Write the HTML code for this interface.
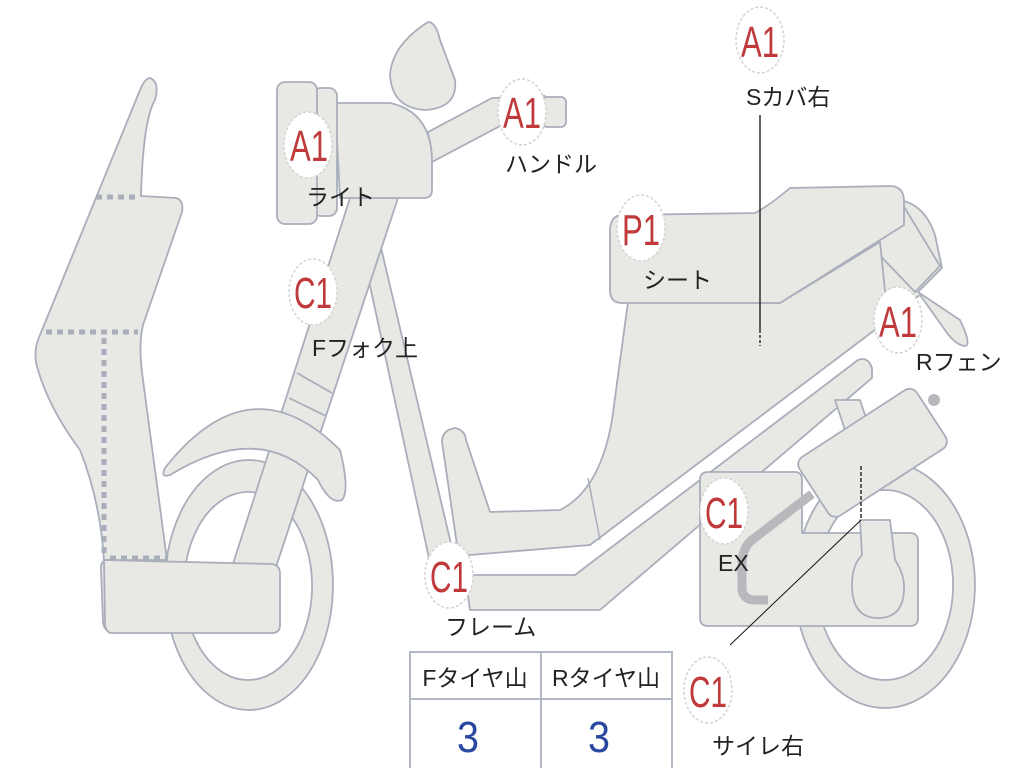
<!DOCTYPE html>
<html><head><meta charset="utf-8"><style>
html,body{margin:0;padding:0;background:#fff;}
svg{display:block;}
.s{fill:#e8e8e4;stroke:#a9aebb;stroke-width:1.8;stroke-linejoin:round;}
.b{fill:#fff;stroke:#d4d4d4;stroke-width:1.5;stroke-dasharray:3 2;}
.bt{font-family:"Liberation Sans",sans-serif;fill:#c0393b;font-size:44px;}
.lb{font-family:"Liberation Sans","Noto Sans CJK JP",sans-serif;fill:#222;font-size:23px;}
</style></head><body>
<svg width="1024" height="768" viewBox="0 0 1024 768" xmlns="http://www.w3.org/2000/svg">
<path class="s" fill-rule="evenodd" d="M249,460 A84,125 0 1,1 248.9,460 Z M248,492 A64,94 0 1,0 248.1,492 Z"/>
<path class="s" fill-rule="evenodd" d="M885,462 A90,123 0 1,1 884.9,462 Z M885,490 A68,95 0 1,0 885.1,490 Z"/>
<polygon class="s" points="359,235 378,235 456,565 432,572"/>
<polygon class="s" points="350,198 398,198 276,567 232,567"/>
<line x1="297" y1="373" x2="332" y2="393" stroke="#a9aebb" stroke-width="1.8"/>
<line x1="289" y1="398" x2="326" y2="416" stroke="#a9aebb" stroke-width="1.8"/>
<path class="s" d="M165,468 Q250,360 340,450 Q350,490 342,500 Q330,505 318,480 Q260,420 170,475 Q160,478 165,468 Z"/>
<path class="s" d="M150,78 Q160,82 155,100 Q143,120 141,196 L176,198 Q184,200 182,212 L143,325 Q138,345 143,380 L167,560 L108,560 Q100,560 101,570 L103,622 Q104,632 114,632 L110,632 L104,560 Q100,500 80,450 Q50,410 38,370 Q32,352 40,335 L140,90 Q145,78 150,78 Z"/>
<path class="s" d="M104,560 L272,564 Q280,565 280,574 L280,625 Q280,633 272,633 L112,633 Q105,633 105,622 Z"/>
<g stroke="#a9aebb" stroke-width="5" stroke-dasharray="6 5" fill="none">
<line x1="96" y1="197" x2="140" y2="197"/>
<line x1="46" y1="332" x2="138" y2="332"/>
<line x1="104" y1="338" x2="104" y2="556"/>
<line x1="110" y1="558" x2="168" y2="558"/>
</g>
<path class="s" d="M428,22 Q436,22 440,40 L455,80 Q458,108 425,110 Q392,108 390,75 Q392,45 428,22 Z"/>
<path class="s" d="M428,132 L492,98 L545,96 L545,124 L500,126 L432,162 Z"/>
<rect class="s" x="542" y="97" width="24" height="30" rx="5"/>
<path class="s" d="M335,103 L390,103 Q432,112 432,162 L432,190 Q432,198 424,198 L340,198 Z"/>
<rect class="s" x="313" y="88" width="24" height="128" rx="8"/>
<rect class="s" x="277" y="82" width="40" height="142" rx="8"/>
<path class="s" d="M900,200 Q925,205 935,235 L942,268 L918,292 Q930,300 960,320 Q972,345 965,346 Q955,345 945,330 L920,295 L888,318 L870,245 Z"/>
<path class="s" d="M870,245 L900,200 L940,266 L915,292 Z"/>
<path class="s" d="M628,302 L780,303 L880,242 L888,320 L590,545 L470,555 Q460,555 457,545 L442,442 Q442,430 455,428 Q465,430 466,440 L490,512 L560,510 Q600,490 612,420 Z"/>
<line x1="588" y1="478" x2="600" y2="540" stroke="#a9aebb" stroke-width="1.5"/>
<path class="s" d="M622,215 L755,213 Q770,205 790,188 L890,186 Q903,186 904,200 L904,225 L780,303 L622,303 Q610,303 610,290 L610,228 Q612,215 622,215 Z"/>
<path class="s" d="M465,575 L575,575 L858,360 Q868,356 872,368 L872,378 L600,610 L470,610 Z"/>
<path class="s" d="M708,472 L795,472 Q802,472 802,480 L802,533 L910,533 Q918,533 918,541 L918,618 Q918,626 910,626 L708,626 Q700,626 700,618 L700,480 Q700,472 708,472 Z"/>
<polygon class="s" points="835,400 860,400 870,430 845,430"/>
<path class="s" d="M860,520 L890,520 L895,560 Q905,575 904,590 Q903,618 878,618 Q852,618 852,585 Q852,565 862,555 Z"/>
<path d="M812,494 L752,540 Q742,548 742,565 L742,590 Q744,600 755,600 L768,600" fill="none" stroke="#b7b9bc" stroke-width="9"/>
<circle cx="934" cy="400" r="6" fill="#b7b9bc"/>
<g transform="rotate(-33 872 452)">
<rect class="s" x="802" y="418" width="140" height="70" rx="9"/>
</g>
<line x1="760" y1="115" x2="760" y2="330" stroke="#111" stroke-width="1.3"/>
<line x1="760" y1="330" x2="760" y2="346" stroke="#111" stroke-width="1.3" stroke-dasharray="3 2"/>
<line x1="861" y1="466" x2="861" y2="520" stroke="#111" stroke-width="1.3" stroke-dasharray="4 2"/>
<line x1="861" y1="520" x2="730" y2="645" stroke="#111" stroke-width="1"/>
<g>
<ellipse class="b" cx="308" cy="145" rx="24" ry="33"/><text class="bt" x="290" y="161" textLength="38" lengthAdjust="spacingAndGlyphs">A1</text>
<ellipse class="b" cx="522" cy="112" rx="24" ry="33"/><text class="bt" x="503" y="128" textLength="38" lengthAdjust="spacingAndGlyphs">A1</text>
<ellipse class="b" cx="760" cy="40" rx="24" ry="33"/><text class="bt" x="741" y="57" textLength="38" lengthAdjust="spacingAndGlyphs">A1</text>
<ellipse class="b" cx="641" cy="228" rx="24" ry="33"/><text class="bt" x="622" y="245" textLength="38" lengthAdjust="spacingAndGlyphs">P1</text>
<ellipse class="b" cx="313" cy="292" rx="24" ry="33"/><text class="bt" x="294" y="308" textLength="38" lengthAdjust="spacingAndGlyphs">C1</text>
<ellipse class="b" cx="898" cy="320" rx="24" ry="33"/><text class="bt" x="879" y="337" textLength="38" lengthAdjust="spacingAndGlyphs">A1</text>
<ellipse class="b" cx="724" cy="511" rx="24" ry="33"/><text class="bt" x="705" y="528" textLength="38" lengthAdjust="spacingAndGlyphs">C1</text>
<ellipse class="b" cx="449" cy="575" rx="24" ry="33"/><text class="bt" x="430" y="592" textLength="38" lengthAdjust="spacingAndGlyphs">C1</text>
<ellipse class="b" cx="708" cy="690" rx="24" ry="33"/><text class="bt" x="689" y="707" textLength="38" lengthAdjust="spacingAndGlyphs">C1</text>
</g>
<g class="lb">
<text x="306" y="205">ライト</text>
<text x="505" y="172">ハンドル</text>
<text x="746" y="105">Sカバ右</text>
<text x="643" y="288">シート</text>
<text x="312" y="356">Fフォク上</text>
<text x="916" y="370">Rフェン</text>
<text x="718" y="571">EX</text>
<text x="445" y="635">フレーム</text>
<text x="712" y="754">サイレ右</text>
</g>
<rect x="410" y="652" width="262" height="120" fill="#fff" stroke="#b3b8c6" stroke-width="2"/>
<line x1="410" y1="699" x2="672" y2="699" stroke="#b3b8c6" stroke-width="2"/>
<line x1="541" y1="652" x2="541" y2="768" stroke="#b3b8c6" stroke-width="2"/>
<text class="lb" x="475" y="686" text-anchor="middle">Fタイヤ山</text>
<text class="lb" x="606" y="686" text-anchor="middle">Rタイヤ山</text>
<text x="457" y="752" font-family="Liberation Sans,sans-serif" font-size="44" fill="#2a48a0" textLength="22" lengthAdjust="spacingAndGlyphs">3</text>
<text x="588" y="752" font-family="Liberation Sans,sans-serif" font-size="44" fill="#2a48a0" textLength="22" lengthAdjust="spacingAndGlyphs">3</text>
</svg>
</body></html>
